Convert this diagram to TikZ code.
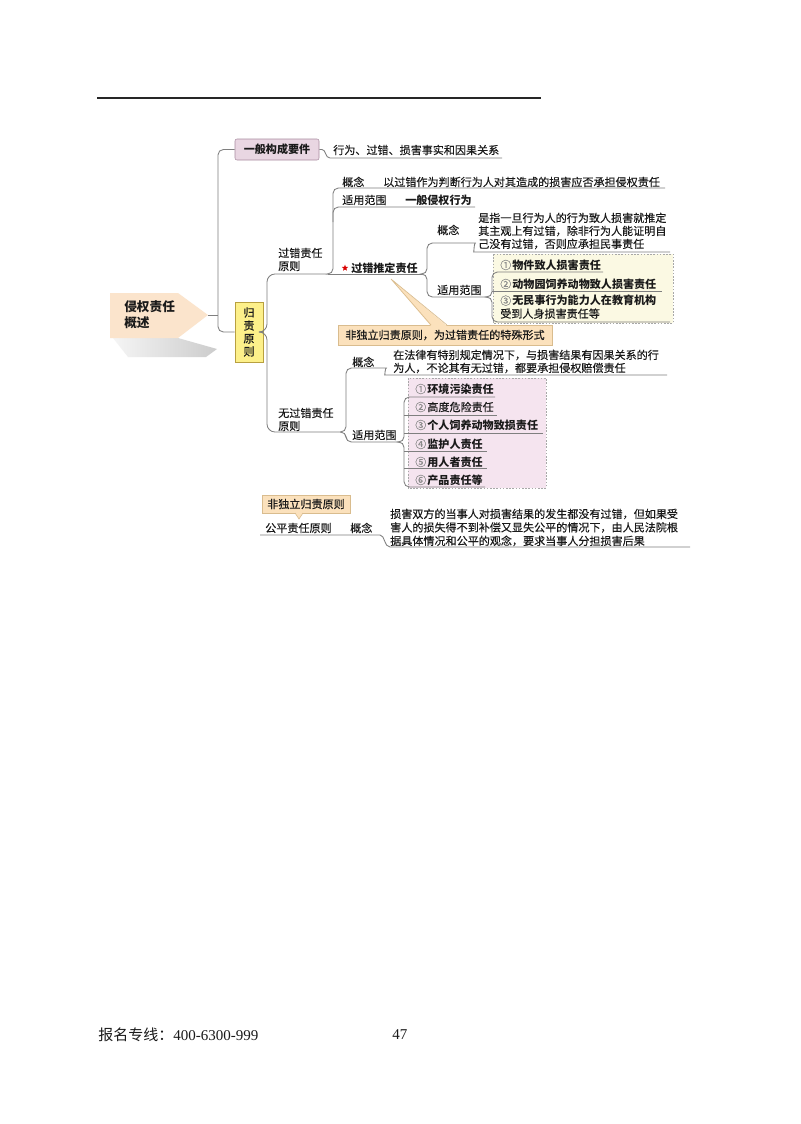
\documentclass[tikz,border=0pt]{standalone}
\usepackage{fontspec}
\setmainfont{Noto Sans CJK SC}[UprightFeatures={FakeBold=0.35}]
\newfontfamily\plaincjk{Noto Sans CJK SC}
\newfontfamily\serifft{Liberation Serif}
\usetikzlibrary{shapes.geometric}
\definecolor{linegray}{HTML}{7F7F7F}
\definecolor{ink}{HTML}{1A1A1A}
\definecolor{rootfill}{HTML}{FBE4CC}
\definecolor{yibanfill}{HTML}{E9D6E2}
\definecolor{yibandraw}{HTML}{A88CA0}
\definecolor{guizefill}{HTML}{FDF08A}
\definecolor{guizedraw}{HTML}{B8A040}
\definecolor{calloutfill}{HTML}{FBE1BC}
\definecolor{calloutdraw}{HTML}{D9BC8E}
\definecolor{yellowbox}{HTML}{FBF9E3}
\definecolor{pinkbox}{HTML}{F5E4EF}
\definecolor{dashgray}{HTML}{A8A8A8}
\definecolor{numgray}{HTML}{8A8A8A}
\newcommand\circnum[1]{{\color{numgray}#1}\hspace{0.8pt}}
\begin{document}
\begin{tikzpicture}[x=0.75pt,y=-0.75pt,
  conn/.style={draw=linegray,line width=0.65pt},
  rc/.style={rounded corners=4pt},
  txt/.style={anchor=west,inner sep=0pt,font=\fontsize{8.3}{9.75}\selectfont,text=ink,align=left},
  callout/.style={draw=calloutdraw,fill=calloutfill,inner sep=0pt,font=\fontsize{8.3}{9.75}\selectfont,text=ink},
  dashbox/.style={draw=dashgray,dash pattern=on 1.2pt off 1.2pt,line width=0.5pt}]
\useasboundingbox (0,0) rectangle (800,1124);
\fill[white] (0,0) rectangle (800,1124);

% top rule
\coordinate (ruleL) at (97,98);
\coordinate (ruleR) at (541,98);
\draw[line width=0.9pt,black!85] (ruleL) -- (ruleR);

% root
\shade[left color=gray!8,right color=gray!40] (113,338) -- (178,338) -- (217,349) -- (206,357) -- (128,357) -- cycle;
\fill[rootfill] (110,293) -- (178,293) -- (208,315) -- (178,338) -- (110,338) -- cycle;
\node[txt,font=\fontsize{9.5}{12}\selectfont\bfseries] (root) at (124,315) {侵权责任\\概述};
\coordinate (roottip) at (208,315);

% level 1 boxes
\node[draw=yibandraw,fill=yibanfill,rounded corners=1.5pt,minimum width=63pt,minimum height=15.75pt,inner sep=0pt,font=\fontsize{8.3}{9.75}\selectfont\bfseries,text=ink] (yiban) at (277,149.5) {一般构成要件};
\node[draw=guizedraw,fill=guizefill,minimum width=21pt,minimum height=45pt,inner sep=0pt,align=center,font=\fontsize{8.3}{9.75}\selectfont,text=ink] (guize) at (249,332) {归\\责\\原\\则};

\draw[conn] (roottip) -- (218,315);
\draw[conn,rc] (yiban.west) -| (218,332) -- (guize.west);

% general elements
\node[txt] (yibanv) at (333,150) {行为、过错、损害事实和因果关系};
\draw[conn] (yiban.east) -- (322,149.5) .. controls (326,149.5) and (325,158) .. (330,158) -- (502,158);

% fault liability principle
\node[txt] (gczr) at (278,259.5) {过错责任\\原则};
\coordinate (j0) at (267,332);
\draw[conn,rounded corners=6pt] (guize.east) -- (j0) |- (328,274);
\coordinate (j1) at (328,274);
\node[txt] (gn1) at (342,182) {概念};
\node[txt] (gn1v) at (383,182) {以过错作为判断行为人对其造成的损害应否承担侵权责任};
\node[txt] (fw1) at (342,200) {适用范围};
\node[txt,font=\fontsize{8.3}{9.75}\selectfont\bfseries] (fw1v) at (405,200) {一般侵权行为};
\draw[conn,rc] (j1) -| (333,188) -- (665,188);
\draw[conn,rc] (333,222) |- (475,207);
\draw[conn] (j1) -- (422,274);

% presumed fault
\node[star,star points=5,star point ratio=2.3,fill=red!85!black,inner sep=0pt,minimum size=5pt] (star) at (345,268) {};
\node[txt,font=\fontsize{8.3}{9.75}\selectfont\bfseries] (gctd) at (351,268) {过错推定责任};
\coordinate (j2) at (422,274);
\node[txt] (gn2) at (437,230) {概念};
\node[txt] (gn2v) at (478,231) {是指一旦行为人的行为致人损害就推定\\其主观上有过错，除非行为人能证明自\\己没有过错，否则应承担民事责任};
\node[txt] (fw2) at (437,290) {适用范围};
\draw[conn,rc] (j2) -| (427,243) -- (470,243) .. controls (474,243) and (474,252) .. (479,252) -- (670,252);
\draw[conn,rc] (j2) -| (427,297) -- (488,297);

\draw[dashbox,fill=yellowbox] (493,254) rectangle (673,323);
\node[txt] (y1) at (500,265) {\circnum{①}\textbf{物件致人损害责任}};
\node[txt] (y2) at (500,284) {\circnum{②}\textbf{动物园饲养动物致人损害责任}};
\node[txt] (y3) at (500,307) {\circnum{③}\textbf{无民事行为能力人在教育机构}\\受到人身损害责任等};
\coordinate (j3) at (488,297);
\draw[conn,rc] (j3) -| (492,272) -- (603,272);
\draw[conn,rc] (j3) -| (492,322) -- (670,322);
\draw[conn] (492,291) -- (662,291);

% callout 1
\node[callout,minimum width=160.5pt,minimum height=15pt] (call1) at (445,335) {非独立归责原则，为过错责任的特殊形式};
\coordinate (call1tip) at (391,279);
\fill[calloutfill] (call1tip) -- (431,326) -- (447,326) -- cycle;
\draw[calloutdraw,line width=0.5pt] (431,325) -- (call1tip) -- (447,325);

% no-fault liability principle
\node[txt] (wgczr) at (278,419.5) {无过错责任\\原则};
\draw[conn,rounded corners=6pt] (guize.east) -- (j0) |- (340,432);
\coordinate (j4) at (340,432);
\node[txt] (gn3) at (352,362) {概念};
\node[txt] (gn3v) at (393,361.5) {在法律有特别规定情况下，与损害结果有因果关系的行\\为人，不论其有无过错，都要承担侵权赔偿责任};
\node[txt] (fw3) at (352,435) {适用范围};
\draw[conn,rc] (j4) -| (346,368) -- (381,368) .. controls (385,368) and (385,375) .. (390,375) -- (667,375);
\draw[conn,rc] (j4) -| (346,442) -- (400,442);

\draw[dashbox,fill=pinkbox] (408,378) rectangle (546,488);
\node[txt] (p1) at (415,389) {\circnum{①}\textbf{环境污染责任}};
\node[txt] (p2) at (415,407) {\circnum{②}高度危险责任};
\node[txt] (p3) at (415,425) {\circnum{③}\textbf{个人饲养动物致损责任}};
\node[txt] (p4) at (415,444) {\circnum{④}\textbf{监护人责任}};
\node[txt] (p5) at (415,462) {\circnum{⑤}\textbf{用人者责任}};
\node[txt] (p6) at (415,480) {\circnum{⑥}\textbf{产品责任等}};
\coordinate (j5) at (400,442);
\draw[conn,rc] (j5) -| (404,397) -- (495,397);
\draw[conn,rc] (j5) -| (404,487) -- (485,487);
\draw[conn] (404,415) -- (497,415);
\draw[conn] (404,433) -- (543,433);
\draw[conn] (404,451) -- (487,451);
\draw[conn] (404,468) -- (487,468);

% fairness principle
\node[callout,minimum width=66pt,minimum height=13.5pt] (call2) at (306,504) {非独立归责原则};
\coordinate (call2tip) at (299,519);
\fill[calloutfill] (295,512.5) -- (call2tip) -- (303,512.5) -- cycle;
\draw[calloutdraw,line width=0.5pt] (295,513) -- (call2tip) -- (303,513);
\node[txt] (gpzr) at (265,528) {公平责任原则};
\node[txt] (gn4) at (350,528) {概念};
\node[txt,font=\fontsize{8.3}{10.1}\selectfont] (gn4v) at (390,527.5) {损害双方的当事人对损害结果的发生都没有过错，但如果受\\害人的损失得不到补偿又显失公平的情况下，由人民法院根\\据具体情况和公平的观念，要求当事人分担损害后果};
\coordinate (j6) at (260,535);
\draw[conn] (j6) -- (380,535) .. controls (385,535) and (384,547) .. (390,547) -- (690,547);

% footer
\node[anchor=west,inner sep=0pt,font=\plaincjk\fontsize{11.25}{13}\selectfont,text=ink] (footer) at (98,1035) {报名专线：{\serifft 400-6300-999}};
\node[anchor=west,inner sep=0pt,font=\serifft\fontsize{11.25}{13}\selectfont,text=ink] (page) at (392,1035) {47};
\end{tikzpicture}
\end{document}
